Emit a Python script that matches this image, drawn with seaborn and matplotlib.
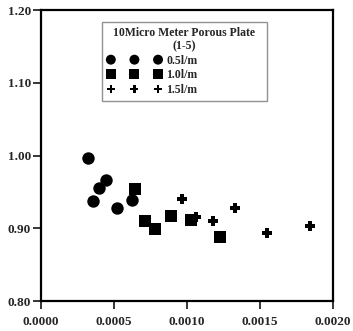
import numpy as np
import pandas as pd
import seaborn as sns
import matplotlib
matplotlib.use("Agg")
import matplotlib.pyplot as plt

# Values
x_05 = [0.000324, 0.000358, 0.000395, 0.000445, 0.000520, 0.000621]
y_05 = [0.997, 0.937, 0.956, 0.966, 0.928, 0.939]

x_10 = [0.000642, 0.000710, 0.000783, 0.000888, 0.001030, 0.001228]
y_10 = [0.954, 0.910, 0.899, 0.917, 0.911, 0.888]

x_15 = [0.000966, 0.001060, 0.001176, 0.001330, 0.001546, 0.001842]
y_15 = [0.940, 0.916, 0.910, 0.928, 0.894, 0.9035]

x_ticks = [0.0000, 0.0005, 0.0010, 0.0015, 0.0020]
y_ticks = [0.80, 0.90, 1.00, 1.10, 1.20]

sns.set_style("ticks")
plt.rcParams["font.family"] = ["Liberation Serif", "DejaVu Serif"]
plt.rcParams["font.weight"] = "bold"

fig = plt.figure(figsize=(3.53, 3.31), dpi=100)
ax = fig.add_axes([0.116, 0.0906, 0.827, 0.879])

sns.scatterplot(x=x_05, y=y_05, ax=ax, marker="o", s=80, color="black",
                edgecolor="black", linewidth=0, label="0.5l/m")
sns.scatterplot(x=x_10, y=y_10, ax=ax, marker="s", s=80, color="black",
                edgecolor="black", linewidth=0, label="1.0l/m")
sns.scatterplot(x=x_15, y=y_15, ax=ax, marker="P", s=50, color="black",
                edgecolor="black", linewidth=0, label="1.5l/m")

ax.set_xlim(0, 0.002)
ax.set_ylim(0.80, 1.20)
ax.set_xticks(x_ticks)
ax.set_xticklabels([f"{v:.4f}" for v in x_ticks])
ax.set_yticks(y_ticks)
ax.set_yticklabels([f"{v:.2f}" for v in y_ticks])

for s in ax.spines.values():
    s.set_visible(True)
    s.set_linewidth(1.6)
    s.set_color("black")
ax.tick_params(direction="out", length=6, width=1.3, labelsize=9.5,
               top=False, right=False)
ax.tick_params(axis="x", pad=5)
ax.tick_params(axis="y", pad=1)

leg = ax.legend(scatterpoints=3, scatteryoffsets=[0.5], markerscale=0.8,
                title="  10Micro Meter Porous Plate  \n(1-5)",
                loc="upper left", bbox_to_anchor=(0.209, 0.959),
                borderaxespad=0, fancybox=False, frameon=True,
                fontsize=8.5, title_fontsize=8.5, handletextpad=0.4,
                labelspacing=0.22, borderpad=0.45, handlelength=4.6)
leg.get_frame().set_edgecolor("#777777")
leg.get_frame().set_linewidth(1.0)
leg.get_title().set_fontweight("bold")
leg.get_title().set_multialignment("center")
leg.get_title().set_linespacing(1.1)
leg._legend_box.align = "left"

ax.set_xlabel("")
ax.set_ylabel("")

fig.savefig("out.png", dpi=100)
